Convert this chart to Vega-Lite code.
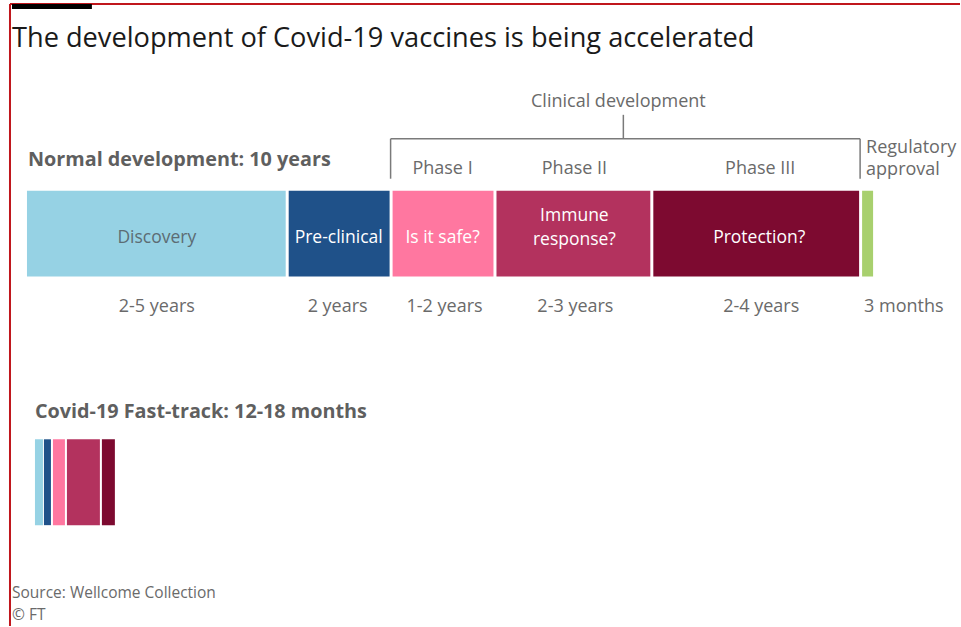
{
  "$schema": "https://vega.github.io/schema/vega-lite/v6.json",
  "autosize": {"type": "fit", "contains": "padding"},
  "width": 961,
  "height": 627,
  "padding": 0,
  "background": "white",
  "config": {"view": {"stroke": null}, "font": "Open Sans"},
  "datasets": {
    "bars": [
      {"track": "Normal", "stage": "Discovery", "start": 27, "end": 286, "top": 191, "bottom": 277},
      {"track": "Normal", "stage": "Pre-clinical", "start": 289, "end": 390, "top": 191, "bottom": 277},
      {"track": "Normal", "stage": "Phase I", "start": 393, "end": 494, "top": 191, "bottom": 277},
      {"track": "Normal", "stage": "Phase II", "start": 497, "end": 651, "top": 191, "bottom": 277},
      {"track": "Normal", "stage": "Phase III", "start": 654, "end": 860, "top": 191, "bottom": 277},
      {"track": "Normal", "stage": "Regulatory approval", "start": 863, "end": 874, "top": 191, "bottom": 277},
      {"track": "Fast-track", "stage": "Discovery", "start": 35, "end": 43, "top": 440, "bottom": 526},
      {"track": "Fast-track", "stage": "Pre-clinical", "start": 44, "end": 51, "top": 440, "bottom": 526},
      {"track": "Fast-track", "stage": "Phase I", "start": 53, "end": 65, "top": 440, "bottom": 526},
      {"track": "Fast-track", "stage": "Phase II", "start": 67, "end": 100, "top": 440, "bottom": 526},
      {"track": "Fast-track", "stage": "Phase III", "start": 102, "end": 115, "top": 440, "bottom": 526}
    ],
    "bracket": [
      {"a": 391, "b": 391, "p": 139, "q": 179},
      {"a": 391, "b": 861, "p": 139, "q": 139},
      {"a": 861, "b": 861, "p": 139, "q": 179},
      {"a": 624, "b": 624, "p": 115, "q": 139}
    ],
    "frame": [
      {"a": 10, "b": 961, "p": 4, "q": 4},
      {"a": 10, "b": 10, "p": 4, "q": 627}
    ],
    "flag": [{"a": 12, "b": 92, "p": 4, "q": 9}],
    "title": [{"text": "The development of Covid-19 vaccines is being accelerated", "px": 12, "py": 47}],
    "headers": [
      {"text": "Normal development: 10 years", "px": 28, "py": 166},
      {"text": "Covid-19 Fast-track: 12-18 months", "px": 35, "py": 419}
    ],
    "centerLabels": [
      {"text": "Clinical development", "px": 619, "py": 107},
      {"text": "Phase I", "px": 443, "py": 174},
      {"text": "Phase II", "px": 575, "py": 174},
      {"text": "Phase III", "px": 761, "py": 174},
      {"text": "2-5 years", "px": 157, "py": 312},
      {"text": "2 years", "px": 338, "py": 312},
      {"text": "1-2 years", "px": 445, "py": 312},
      {"text": "2-3 years", "px": 576, "py": 312},
      {"text": "2-4 years", "px": 762, "py": 312}
    ],
    "leftLabels": [
      {"text": "Regulatory", "px": 867, "py": 153},
      {"text": "approval", "px": 867, "py": 175},
      {"text": "3 months", "px": 865, "py": 312}
    ],
    "barLabels": [
      {"text": "Discovery", "px": 157, "py": 243, "dark": true},
      {"text": "Pre-clinical", "px": 339, "py": 243, "dark": false},
      {"text": "Is it safe?", "px": 443, "py": 243, "dark": false},
      {"text": "Immune", "px": 575, "py": 221, "dark": false},
      {"text": "response?", "px": 575, "py": 245, "dark": false},
      {"text": "Protection?", "px": 760, "py": 243, "dark": false}
    ],
    "source": [
      {"text": "Source: Wellcome Collection", "px": 12, "py": 599, "italic": false},
      {"text": "© FT", "px": 12, "py": 621, "italic": true}
    ]
  },
  "layer": [
    {
      "data": {"name": "bars"},
      "mark": {"type": "rect"},
      "encoding": {
        "x": {"field": "start", "type": "quantitative", "scale": {"domain": [0, 961], "nice": false, "zero": false}, "axis": null},
        "x2": {"field": "end"},
        "y": {"field": "top", "type": "quantitative", "scale": {"domain": [0, 627], "nice": false, "zero": false, "reverse": true}, "axis": null},
        "y2": {"field": "bottom"},
        "color": {
          "field": "stage", "type": "nominal", "legend": null,
          "scale": {
            "domain": ["Discovery", "Pre-clinical", "Phase I", "Phase II", "Phase III", "Regulatory approval"],
            "range": ["#96d2e4", "#1f5189", "#ff77a0", "#b3325e", "#7d0a30", "#a8d06e"]
          }
        }
      }
    },
    {
      "data": {"name": "bracket"},
      "mark": {"type": "rule", "color": "#7a7a7a", "strokeWidth": 1.5},
      "encoding": {
        "x": {"field": "a", "type": "quantitative"},
        "x2": {"field": "b"},
        "y": {"field": "p", "type": "quantitative"},
        "y2": {"field": "q"}
      }
    },
    {
      "data": {"name": "frame"},
      "mark": {"type": "rule", "color": "#c0161c", "strokeWidth": 2},
      "encoding": {
        "x": {"field": "a", "type": "quantitative"},
        "x2": {"field": "b"},
        "y": {"field": "p", "type": "quantitative"},
        "y2": {"field": "q"}
      }
    },
    {
      "data": {"name": "flag"},
      "mark": {"type": "rect", "color": "#000000"},
      "encoding": {
        "x": {"field": "a", "type": "quantitative"},
        "x2": {"field": "b"},
        "y": {"field": "p", "type": "quantitative"},
        "y2": {"field": "q"}
      }
    },
    {
      "data": {"name": "title"},
      "mark": {"type": "text", "align": "left", "baseline": "alphabetic", "fontSize": 27.2, "color": "#1a1a1a"},
      "encoding": {
        "x": {"field": "px", "type": "quantitative"},
        "y": {"field": "py", "type": "quantitative"},
        "text": {"field": "text"}
      }
    },
    {
      "data": {"name": "headers"},
      "mark": {"type": "text", "align": "left", "baseline": "alphabetic", "fontSize": 19.8, "fontWeight": "bold", "color": "#5f5f5f"},
      "encoding": {
        "x": {"field": "px", "type": "quantitative"},
        "y": {"field": "py", "type": "quantitative"},
        "text": {"field": "text"}
      }
    },
    {
      "data": {"name": "centerLabels"},
      "mark": {"type": "text", "align": "center", "baseline": "alphabetic", "fontSize": 18, "color": "#6a6a6a"},
      "encoding": {
        "x": {"field": "px", "type": "quantitative"},
        "y": {"field": "py", "type": "quantitative"},
        "text": {"field": "text"}
      }
    },
    {
      "data": {"name": "leftLabels"},
      "mark": {"type": "text", "align": "left", "baseline": "alphabetic", "fontSize": 18, "color": "#6a6a6a"},
      "encoding": {
        "x": {"field": "px", "type": "quantitative"},
        "y": {"field": "py", "type": "quantitative"},
        "text": {"field": "text"}
      }
    },
    {
      "data": {"name": "barLabels"},
      "mark": {"type": "text", "align": "center", "baseline": "alphabetic", "fontSize": 17.5},
      "encoding": {
        "x": {"field": "px", "type": "quantitative"},
        "y": {"field": "py", "type": "quantitative"},
        "text": {"field": "text"},
        "color": {"condition": {"test": "datum.dark", "value": "#5c6c73"}, "value": "#ffffff"}
      }
    },
    {
      "data": {"name": "source"},
      "mark": {"type": "text", "align": "left", "baseline": "alphabetic", "fontSize": 15.5, "color": "#6a6a6a"},
      "encoding": {
        "x": {"field": "px", "type": "quantitative"},
        "y": {"field": "py", "type": "quantitative"},
        "text": {"field": "text"},
        "fontStyle": {"condition": {"test": "datum.italic", "value": "italic"}, "value": "normal"}
      }
    }
  ]
}
